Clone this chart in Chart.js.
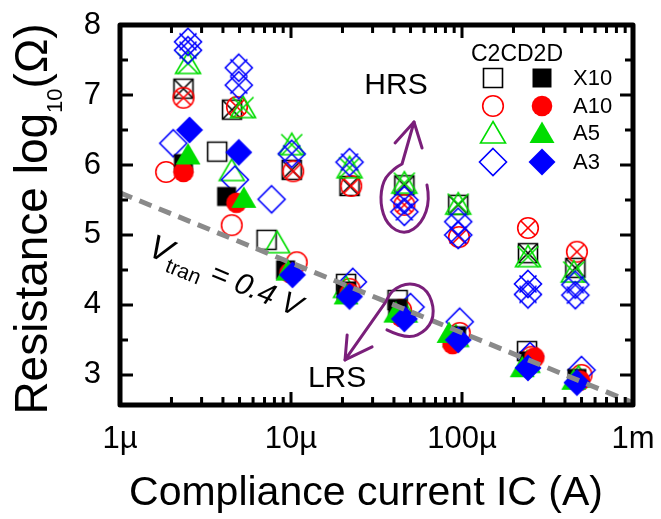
<!DOCTYPE html>
<html>
<head>
<meta charset="utf-8">
<script src="https://cdn.jsdelivr.net/npm/chart.js@4.4.1/dist/chart.umd.min.js"></script>
<style>
  html, body { margin: 0; padding: 0; background: #ffffff; }
  #wrap { width: 661px; height: 519px; }
</style>
</head>
<body>
<div id="wrap"><canvas id="chart" width="661" height="519"></canvas></div>
<script>
// Axis ticks: compliance current in µA (log axis), resistance as log10(Ω)
const xTickValues = [1, 10, 100, 1000];
const xTickLabels = ['1µ', '10µ', '100µ', '1m'];
const yTickValues = [3, 4, 5, 6, 7, 8];

// Transition voltage of the dashed R = V / I line
const vTran = 0.4;

// LRS, device-to-device (filled markers)
const d2dIcX10 = [2.35, 4.2, 9.3, 21, 42, 93, 245, 470];
const d2dLrsX10 = [6.02, 5.55, 4.50, 4.20, 3.95, 3.56, 3.20, 2.95];
const d2dIcA10 = [2.35, 4.8, 9.8, 22, 44, 88, 265, 490];
const d2dLrsA10 = [5.90, 5.46, 4.46, 4.17, 3.83, 3.44, 3.25, 2.92];
const d2dIcA5 = [2.5, 5.3, 9.6, 21, 41, 84, 225, 450];
const d2dLrsA5 = [6.15, 5.53, 4.49, 4.15, 3.89, 3.60, 3.11, 2.93];
const d2dIcA3 = [2.55, 4.95, 10.2, 22, 46, 95, 243, 470];
const d2dLrsA3 = [6.50, 6.18, 4.43, 4.12, 3.80, 3.50, 3.10, 2.89];

// LRS, cycle-to-cycle (open markers)
const c2cIcX10 = [3.7, 7.2, 21, 42, 240];
const c2cLrsX10 = [6.19, 4.93, 4.30, 4.07, 3.34];
const c2cIcA10 = [1.86, 4.5, 10.8, 22, 44, 97, 255, 500];
const c2cLrsA10 = [5.90, 5.14, 4.61, 4.23, 3.93, 3.60, 3.26, 3.00];
const c2cIcA5 = [4.5, 8.3, 21, 46, 92, 240, 480];
const c2cLrsA5 = [5.92, 4.89, 4.25, 3.90, 3.55, 3.18, 2.97];
const c2cIcA3 = [2.05, 4.7, 7.7, 23, 50, 97, 250, 500];
const c2cLrsA3 = [6.31, 5.79, 5.51, 4.33, 3.97, 3.76, 3.27, 3.07];

// HRS (crossed markers)
const hrsIcX10 = [2.35, 4.52, 10.1, 22, 46, 95, 243, 460];
const hrsX10 = [7.09, 6.79, 5.93, 5.70, 5.71, 5.43, 4.74, 4.53];
const hrsIcA10 = [2.35, 4.83, 10.3, 22.5, 46, 96, 243, 470];
const hrsA10 = [6.96, 6.83, 5.91, 5.70, 5.43, 4.97, 5.10, 4.76];
const hrsIcA5 = [2.5, 5.24, 10.1, 22, 46, 95, 243, 450];
const hrsA5 = [7.45, 6.82, 6.29, 5.96, 5.74, 5.44, 4.69, 4.47];
const hrsIcA3 = [2.5, 2.5, 4.95, 4.95, 10.1, 22, 46, 46, 95, 95, 243, 243, 460, 460];
const hrsA3 = [7.76, 7.64, 7.39, 7.14, 6.16, 6.04, 5.50, 5.33, 5.19, 5.00, 4.30, 4.15, 4.29, 4.14];

// Legend rows
const legendNames = ['X10', 'A10', 'A5', 'A3'];

const FONT = '"Liberation Sans", Arial, Helvetica, sans-serif';
const colors = { X10: '#000000', A10: '#ff0000', A5: '#00dd00', A3: '#0000ff' };
const shapes = { X10: 'square', A10: 'circle', A5: 'triangle', A3: 'diamond' };

function markerPath(ctx, shape, c) {
  ctx.beginPath();
  if (shape === 'square') {
    ctx.rect(c - 9.5, c - 9.5, 19, 19);
  } else if (shape === 'circle') {
    ctx.arc(c, c, 10.3, 0, Math.PI * 2);
  } else if (shape === 'triangle') {
    ctx.moveTo(c, c - 11.5);
    ctx.lineTo(c + 12.5, c + 10);
    ctx.lineTo(c - 12.5, c + 10);
    ctx.closePath();
  } else {
    ctx.moveTo(c, c - 13.5);
    ctx.lineTo(c + 13.5, c);
    ctx.lineTo(c, c + 13.5);
    ctx.lineTo(c - 13.5, c);
    ctx.closePath();
  }
}

// Builds a point image: 'open', 'filled' or 'crossed' (open with an X)
function makeMarker(name, kind) {
  const S = 36, c = S / 2;
  const shape = shapes[name];
  const cv = document.createElement('canvas');
  cv.width = S; cv.height = S;
  const ctx = cv.getContext('2d');
  ctx.strokeStyle = colors[name];
  ctx.fillStyle = colors[name];
  ctx.lineWidth = 1.6;
  markerPath(ctx, shape, c);
  if (kind === 'filled') ctx.fill(); else ctx.stroke();
  if (kind === 'crossed') {
    const a = { square: 9.5, circle: 7.3, triangle: 10.5, diamond: 8.5 }[shape];
    ctx.beginPath();
    ctx.moveTo(c - a, c - a); ctx.lineTo(c + a, c + a);
    ctx.moveTo(c + a, c - a); ctx.lineTo(c - a, c + a);
    ctx.stroke();
  }
  return cv;
}

const markers = {};
legendNames.forEach(n => {
  markers[n] = { open: makeMarker(n, 'open'), filled: makeMarker(n, 'filled'), crossed: makeMarker(n, 'crossed') };
});

function pts(xs, ys) { return xs.map((x, i) => ({ x: x, y: ys[i] })); }

function series(label, xs, ys, img, order) {
  return {
    label: label,
    data: pts(xs, ys),
    pointStyle: img,
    pointRadius: 10,
    pointHoverRadius: 10,
    showLine: false,
    order: order
  };
}

// Dashed R = V/I line across the full current range
const lineIc = [1, 1000];
const lineR = lineIc.map(i => Math.log10(vTran / (i * 1e-6)));

const datasets = [
  {
    label: 'Vtran',
    data: pts(lineIc, lineR),
    showLine: true,
    borderColor: '#8a8a8a',
    borderWidth: 5,
    borderDash: [13, 8],
    pointRadius: 0,
    pointHoverRadius: 0,
    order: 0
  },
  series('HRS A3', hrsIcA3, hrsA3, markers.A3.crossed, 1),
  series('HRS A5', hrsIcA5, hrsA5, markers.A5.crossed, 2),
  series('HRS A10', hrsIcA10, hrsA10, markers.A10.crossed, 3),
  series('HRS X10', hrsIcX10, hrsX10, markers.X10.crossed, 4),
  series('D2D A3', d2dIcA3, d2dLrsA3, markers.A3.filled, 5),
  series('D2D A5', d2dIcA5, d2dLrsA5, markers.A5.filled, 6),
  series('D2D A10', d2dIcA10, d2dLrsA10, markers.A10.filled, 7),
  series('D2D X10', d2dIcX10, d2dLrsX10, markers.X10.filled, 8),
  series('C2C A3', c2cIcA3, c2cLrsA3, markers.A3.open, 9),
  series('C2C A5', c2cIcA5, c2cLrsA5, markers.A5.open, 10),
  series('C2C A10', c2cIcA10, c2cLrsA10, markers.A10.open, 11),
  series('C2C X10', c2cIcX10, c2cLrsX10, markers.X10.open, 12)
];

// Switching-loop sketches, in (µA, log10 Ω)
const hrsLoop = [[62.4, 5.714], [65, 5.5], [58.4, 5.171], [46.4, 5.0], [36.4, 5.143],
  [33.1, 5.457], [34.5, 5.786], [40.6, 5.957], [44.6, 6.014]];
const hrsArrow = { tip: [52.4, 6.614], barbs: [[40.6, 6.314], [58.4, 6.243]] };
const lrsLoop = [[36.4, 3.643], [47.7, 3.5], [63.2, 3.643], [69.5, 3.9], [63.2, 4.214],
  [49.6, 4.329], [39.0, 4.214], [35.5, 4.029]];
const lrsArrow = { tip: [20.7, 3.214], barbs: [[21.3, 3.571], [29.8, 3.4]] };

const overlay = {
  id: 'overlay',
  afterDatasetsDraw(chart) {
    const { ctx, chartArea: a, scales } = chart;
    const X = v => scales.x.getPixelForValue(v);
    const Y = v => scales.y.getPixelForValue(v);
    const P = p => [X(p[0]), Y(p[1])];

    ctx.save();

    // purple loops with arrows
    ctx.strokeStyle = '#7a1f7a';
    ctx.lineWidth = 3;
    ctx.lineCap = 'round';
    ctx.lineJoin = 'round';
    function loop(points, arrow) {
      const p = points.map(P);
      ctx.beginPath();
      ctx.moveTo(p[0][0], p[0][1]);
      for (let i = 1; i < p.length - 1; i++) {
        const mx = (p[i][0] + p[i + 1][0]) / 2, my = (p[i][1] + p[i + 1][1]) / 2;
        ctx.quadraticCurveTo(p[i][0], p[i][1], mx, my);
      }
      const last = p[p.length - 1];
      ctx.lineTo(last[0], last[1]);
      const t = P(arrow.tip);
      ctx.lineTo(t[0], t[1]);
      ctx.stroke();
      ctx.beginPath();
      arrow.barbs.forEach(b => {
        const q = P(b);
        ctx.moveTo(q[0], q[1]);
        ctx.lineTo(t[0], t[1]);
      });
      ctx.stroke();
    }
    loop(hrsLoop, hrsArrow);
    loop(lrsLoop, lrsArrow);

    // state labels
    ctx.fillStyle = '#000';
    ctx.font = '30px ' + FONT;
    ctx.textAlign = 'center';
    ctx.textBaseline = 'middle';
    ctx.fillText('HRS', X(41.1), Y(7.13));
    ctx.fillText('LRS', X(18.6), Y(2.943));

    // V_tran label along the dashed line
    const x0 = X(lineIc[0]), y0 = Y(lineR[0]), x1 = X(lineIc[1]), y1 = Y(lineR[1]);
    const ang = Math.atan2(y1 - y0, x1 - x0);
    ctx.save();
    ctx.translate(X(1.42), Y(4.714));
    ctx.rotate(ang);
    ctx.textAlign = 'left';
    ctx.textBaseline = 'alphabetic';
    let cx = 0;
    ctx.font = 'italic 34px ' + FONT;
    ctx.fillText('V', cx, 0);
    cx += ctx.measureText('V').width;
    ctx.font = '21px ' + FONT;
    ctx.fillText('tran', cx, 8);
    cx += ctx.measureText('tran').width;
    ctx.font = 'italic 30px ' + FONT;
    ctx.fillText(' = 0.4 V', cx, 0);
    ctx.restore();

    // frame
    ctx.strokeStyle = '#000';
    ctx.lineWidth = 5;
    ctx.lineJoin = 'round';
    ctx.strokeRect(a.left, a.top, a.right - a.left, a.bottom - a.top);

    // inward ticks on all four sides
    ctx.lineWidth = 3;
    ctx.lineCap = 'butt';
    ctx.beginPath();
    for (let d = 1; d <= 1000; d *= 10) {
      for (let k = 1; k <= 9; k++) {
        const v = d * k;
        if (v > 1000) break;
        const len = k === 1 ? 13 : 8;
        const px = X(v);
        ctx.moveTo(px, a.bottom); ctx.lineTo(px, a.bottom - len);
        ctx.moveTo(px, a.top); ctx.lineTo(px, a.top + len);
      }
    }
    for (let v = 3; v <= 8; v += 0.5) {
      const len = Number.isInteger(v) ? 13 : 8;
      const py = Y(v);
      ctx.moveTo(a.left, py); ctx.lineTo(a.left + len, py);
      ctx.moveTo(a.right, py); ctx.lineTo(a.right - len, py);
    }
    ctx.stroke();

    // legend
    ctx.fillStyle = '#000';
    ctx.font = '23px ' + FONT;
    ctx.textAlign = 'center';
    ctx.textBaseline = 'middle';
    ctx.fillText('C2CD2D', 517, 55);
    ctx.font = '22px ' + FONT;
    ctx.textAlign = 'left';
    const rowY = [78, 106, 133, 162];
    legendNames.forEach((n, i) => {
      const o = markers[n].open, f = markers[n].filled;
      ctx.drawImage(o, 493 - o.width / 2, rowY[i] - o.height / 2);
      ctx.drawImage(f, 542 - f.width / 2, rowY[i] - f.height / 2);
      ctx.fillText(n, 573, rowY[i] + 1);
    });

    // axis titles
    ctx.font = '41px ' + FONT;
    ctx.textAlign = 'center';
    ctx.textBaseline = 'alphabetic';
    ctx.fillText('Compliance current IC (A)', 366, 505);

    ctx.save();
    ctx.translate(47, 219);
    ctx.rotate(-Math.PI / 2);
    const big = '46px ' + FONT, small = '22px ' + FONT;
    const parts = [['Resistance log', big, 0], ['10', small, 15], ['(Ω)', big, 0]];
    let total = 0;
    parts.forEach(p => { ctx.font = p[1]; total += ctx.measureText(p[0]).width; });
    let tx = -total / 2;
    ctx.textAlign = 'left';
    parts.forEach(p => {
      ctx.font = p[1];
      ctx.fillText(p[0], tx, p[2]);
      tx += ctx.measureText(p[0]).width;
    });
    ctx.restore();

    ctx.restore();
  }
};

// Keep the plot box fixed: labels may overhang into the margins
function noLabelPadding(s) {
  s.paddingTop = 0; s.paddingBottom = 0; s.paddingLeft = 0; s.paddingRight = 0;
}

new Chart(document.getElementById('chart'), {
  type: 'scatter',
  data: { datasets: datasets },
  options: {
    responsive: false,
    animation: false,
    devicePixelRatio: 1,
    layout: { autoPadding: false, padding: { top: 25, right: 28, left: 0, bottom: 0 } },
    plugins: { legend: { display: false }, tooltip: { enabled: false } },
    scales: {
      x: {
        type: 'logarithmic',
        min: 1,
        max: 1000,
        grid: { display: false, drawTicks: false },
        border: { display: false },
        afterBuildTicks: s => { s.ticks = xTickValues.map(v => ({ value: v })); },
        afterFit: s => { s.height = 114; noLabelPadding(s); },
        ticks: {
          autoSkip: false,
          maxRotation: 0,
          padding: 16,
          color: '#000',
          font: { family: FONT, size: 31 },
          callback: (v, i) => xTickLabels[i]
        }
      },
      y: {
        type: 'linear',
        min: 2.57,
        max: 8,
        grid: { display: false, drawTicks: false },
        border: { display: false },
        afterBuildTicks: s => { s.ticks = yTickValues.map(v => ({ value: v })); },
        afterFit: s => { s.width = 120; noLabelPadding(s); },
        ticks: {
          padding: 19,
          color: '#000',
          font: { family: FONT, size: 31 },
          callback: v => String(v)
        }
      }
    }
  },
  plugins: [overlay]
});
</script>
</body>
</html>
